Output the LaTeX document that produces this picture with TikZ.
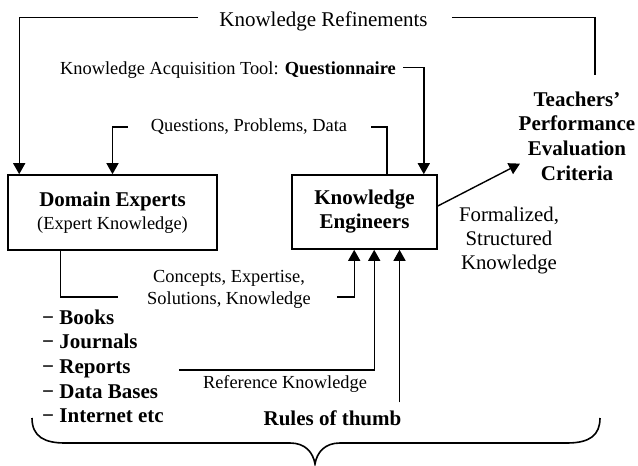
\documentclass[tikz,border=0pt]{standalone}
\usepackage{fontspec}
\setmainfont{Liberation Serif}
\usetikzlibrary{arrows.meta}

\tikzset{
  wire/.style={line width=1.4pt},
  arr/.style={wire,-{Triangle[width=12pt,length=11pt]}},
  box/.style={draw,line width=1.6pt,align=center,inner sep=0pt},
  txt/.style={font=\fontsize{18.4}{24}\selectfont,align=center,inner sep=0pt},
  btxt/.style={font=\fontsize{21}{24.7}\selectfont\bfseries,align=center,inner sep=0pt},
}

\begin{document}
\begin{tikzpicture}[x=1pt,y=-1pt]
  \useasboundingbox (0,0) rectangle (638,466);

  \node[box,font=\fontsize{18.4}{23.5}\selectfont,minimum width=209pt,minimum height=75pt] (de) at (112.5,212.5)
    {{\fontsize{21}{23.5}\selectfont\bfseries Domain Experts}\\(Expert Knowledge)};
  \node[box,btxt,font=\fontsize{21}{24}\selectfont\bfseries,minimum width=145pt,minimum height=74pt] (ke) at (364.5,212)
    {Knowledge\\Engineers};
  \node[btxt] (teach) at (577,136) {Teachers'\\Performance\\Evaluation\\Criteria};
  \node[txt,font=\fontsize{20.8}{24}\selectfont] (fsk) at (509,240.2) {Formalized,\\Structured\\Knowledge};
  \node[txt,font=\fontsize{18.4}{22}\selectfont] (cse) at (229,289.7)
    {Concepts, Expertise,\\Solutions, Knowledge};
  \node[btxt,align=left,anchor=west] (src) at (42,366.4)
    {− Books\\− Journals\\− Reports\\− Data Bases\\− Internet etc};

  \node[txt,font=\fontsize{21}{24}\selectfont,anchor=base] (refine) at (323.5,26) {Knowledge Refinements};
  \node[txt,anchor=base] (kat) at (228,74) {Knowledge Acquisition Tool: \textbf{Questionnaire}};
  \node[txt,anchor=base] (qpd) at (249,131) {Questions, Problems, Data};
  \node[txt,anchor=base] (ref) at (285,388) {Reference Knowledge};
  \node[btxt,anchor=base] (rot) at (332.5,425) {Rules of thumb};

  \draw[arr] ([xshift=-21pt,yshift=8.5pt]refine.base west) -| ([xshift=12pt]de.north west);
  \draw[wire] ([xshift=24pt,yshift=8.5pt]refine.base east) -| ([xshift=18pt,yshift=16.6pt]teach.north);
  \draw[arr] ([xshift=7pt,yshift=6.5pt]kat.base east) -| ([xshift=-14pt]ke.north east);
  \draw[arr] ([xshift=-23pt,yshift=4pt]qpd.base west) -| (de.north);
  \draw[wire] ([xshift=22.5pt]ke.north) |- ([xshift=24pt,yshift=4pt]qpd.base east);

  \coordinate (tip) at ([xshift=-57pt,yshift=17pt]teach.south);
  \draw[arr] ([yshift=6pt]ke.east) -- (tip);

  \draw[wire] ([xshift=53pt]de.south west) |- ([xshift=-29pt,yshift=-7.3pt]cse.west);
  \draw[arr] ([xshift=26pt,yshift=-7.3pt]cse.east) -| ([xshift=63pt]ke.south west);
  \draw[arr] ([xshift=15pt,yshift=-3.6pt]src.east) -| ([xshift=83pt]ke.south west);
  \coordinate (rt) at ([xshift=-2pt,yshift=7.6pt]rot.north east);
  \draw[arr] (rt) -- (rt |- ke.south);

  % brace
  \draw[line width=1.6pt] (32,418) .. controls (32,437) and (45,443) .. (65,443) -- (290,443)
    .. controls (305,443) and (313,452) .. (315,464)
    .. controls (317,452) and (325,443) .. (340,443) -- (567,443)
    .. controls (590,443) and (600,435) .. (600,418);
\end{tikzpicture}
\end{document}
